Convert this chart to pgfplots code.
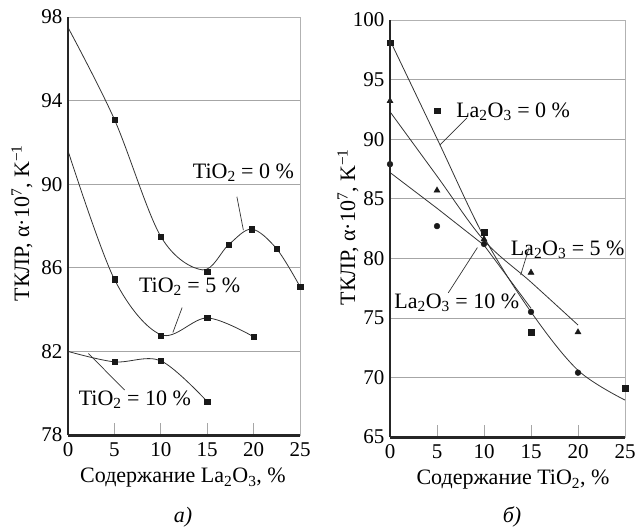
\documentclass[border=0pt]{standalone}
\usepackage{fontspec}
\setmainfont{Liberation Serif}
\usepackage{pgfplots}
\pgfplotsset{compat=1.18}
\pgfplotsset{
  panel/.style={
    scale only axis, width=232pt, height=418pt,
    axis line style={gray!60, line width=0.6pt},
    xmin=0, xmax=25, xtick={0,5,...,25},
    tick align=inside, major tick length=12pt,
    xtick pos=bottom, ytick pos=left,
    ytick style={draw=none},
    xtick style={gray!70, line width=0.8pt},
    ymajorgrids, grid style={gray!70, line width=0.7pt},
    tick label style={font=\fontsize{21}{24}\selectfont, /pgf/number format/assume math mode=true},
    yticklabel style={xshift=2pt},
    clip mode=individual,
  },
}
\tikzset{
  crv/.style={black!80, line width=0.8pt, smooth, tension=0.55},
  sq/.style={mark=square*, mark size=2.7pt, black!90},
  tr/.style={mark=triangle*, mark size=3.5pt, black!90},
  ci/.style={mark=*, mark size=2.9pt, black!90},
  lbl/.style={font=\fontsize{22}{24}\selectfont, inner sep=0pt},
  ptr/.style={black!80, line width=0.7pt},
}
\begin{document}
\fontsize{22}{26}\selectfont
\begin{tikzpicture}
\useasboundingbox (0pt,0pt) rectangle (635pt,-528pt);

% ---------------- left panel ----------------
\begin{axis}[panel, at={(68pt,-435pt)}, anchor=south west,
  ymin=78, ymax=98, ytick={78,82,...,98}]
% TiO2 = 0 %
\addplot[crv, no marks] coordinates {(0,97.5) (5,93.1) (10,87.5) (14.5,85.9) (17.3,87.1) (19.8,87.85) (22.5,86.9) (25,85.1)};
\addplot[sq, only marks] coordinates {(5,93.1) (10,87.5) (15,85.8) (17.3,87.1) (19.8,87.85) (22.5,86.9) (25,85.1)};
% TiO2 = 5 %
\addplot[crv, no marks] coordinates {(0,91.6) (5,85.45) (10,82.8) (15,83.6) (20,82.7)};
\addplot[sq, only marks] coordinates {(5,85.45) (10,82.76) (15,83.6) (20,82.7)};
% TiO2 = 10 %
\addplot[crv, no marks] coordinates {(0,82.0) (5,81.5) (10,81.55) (15,79.6)};
\addplot[sq, only marks] coordinates {(5,81.5) (10,81.55) (15,79.6)};
% labels
\node[lbl] at (axis cs:18.9,90.55) {TiO\textsubscript{2} = 0 \%};
\draw[ptr] (axis cs:18.2,89.4) -- (axis cs:18.9,87.8);
\node[lbl] at (axis cs:13.1,85.1) {TiO\textsubscript{2} = 5 \%};
\draw[ptr] (axis cs:12.3,84.1) -- (axis cs:11.3,82.9);
\node[lbl] at (axis cs:7.2,79.7) {TiO\textsubscript{2} = 10 \%};
\draw[ptr] (axis cs:6.1,80.15) -- (axis cs:2.2,81.9);
% spines
\draw[black!85, line width=2pt] (rel axis cs:0,0) -- (rel axis cs:0,1);
\draw[black!85, line width=3pt] (rel axis cs:0,0) -- (rel axis cs:1,0);
\end{axis}

% ---------------- right panel ----------------
\begin{axis}[panel, at={(390pt,-437pt)}, anchor=south west, width=235pt, height=417pt,
  ymin=65, ymax=100, ytick={65,70,...,100}]
% La2O3 = 0 %
\addplot[crv, no marks] coordinates {(0,98.3) (5,90.05) (10,81.8) (15,75.5) (20,70.6) (25,68.1)};
\addplot[sq, only marks] coordinates {(0,98.1) (5,92.4) (10,82.2) (15,73.8) (25,69.1)};
% La2O3 = 5 %
\addplot[crv, no marks] coordinates {(0,92.3) (5,86.9) (10,81.5) (15,78.0) (20,74.4)};
\addplot[tr, only marks] coordinates {(0,93.2) (5,85.7) (10,81.6) (15,78.8) (20,73.8)};
% La2O3 = 10 %
\addplot[black!80, line width=0.8pt, no marks] coordinates {(0,87.2) (5,84.2) (10,81.1) (15,75.8)};
\addplot[ci, only marks] coordinates {(0,87.9) (5,82.7) (10,81.2) (15,75.5) (20,70.4)};
% labels
\node[lbl] at (axis cs:13.1,92.3) {La\textsubscript{2}O\textsubscript{3} = 0 \%};
\draw[ptr] (axis cs:8.2,91.8) -- (axis cs:5.3,89.5);
\node[lbl] at (axis cs:18.9,80.7) {La\textsubscript{2}O\textsubscript{3} = 5 \%};
\draw[ptr] (axis cs:14.8,80.9) -- (axis cs:13.9,78.6);
\node[lbl] at (axis cs:7.1,76.3) {La\textsubscript{2}O\textsubscript{3} = 10 \%};
\draw[ptr] (axis cs:6.2,77.1) -- (axis cs:9.3,80.9);
% spines
\draw[black!85, line width=2pt] (rel axis cs:0,0) -- (rel axis cs:0,1);
\draw[black!85, line width=3pt] (rel axis cs:0,0) -- (rel axis cs:1,0);
\end{axis}

% axis titles
\node[rotate=90] at (22pt,-223pt) {ТКЛР, α·10\textsuperscript{7}, K\textsuperscript{−1}};
\node[rotate=90] at (348pt,-227pt) {ТКЛР, α·10\textsuperscript{7}, K\textsuperscript{−1}};
\node at (183pt,-478pt) {Содержание La\textsubscript{2}O\textsubscript{3}, \%};
\node at (513pt,-480pt) {Содержание TiO\textsubscript{2}, \%};
\node at (183pt,-517pt) {\itshape а)};
\node at (512pt,-517pt) {\itshape б)};
\end{tikzpicture}
\end{document}
